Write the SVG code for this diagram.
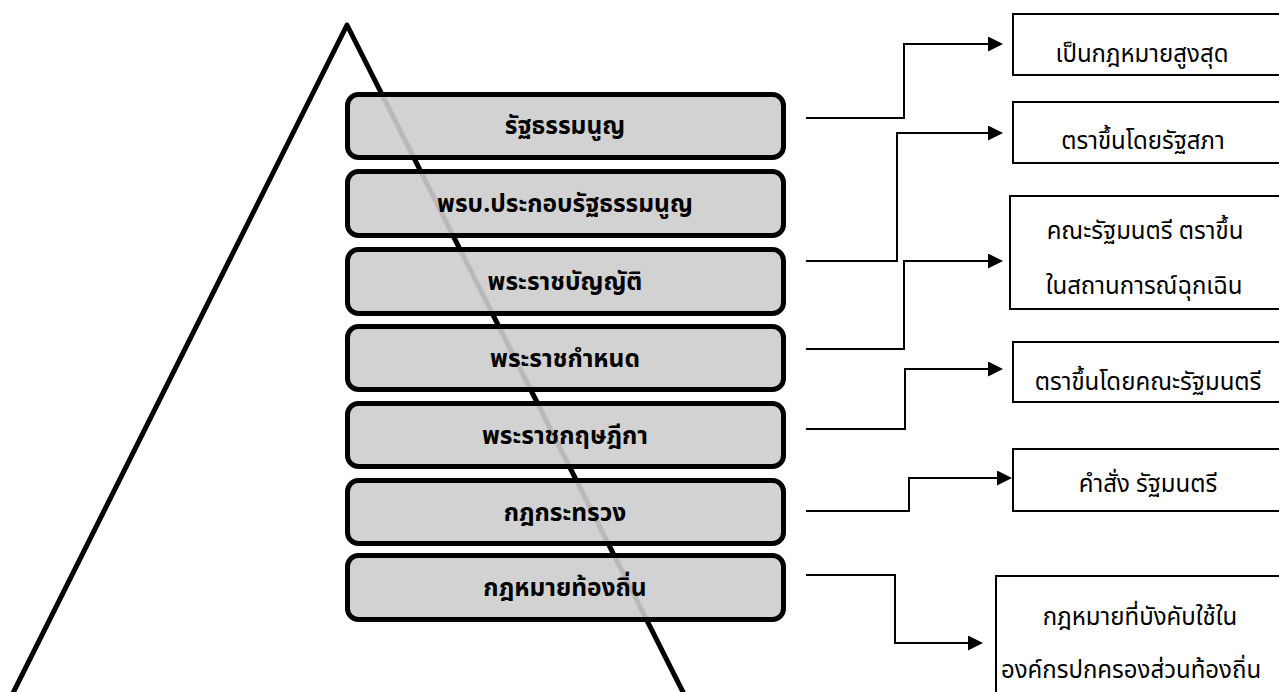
<svg xmlns="http://www.w3.org/2000/svg" width="1279" height="692" viewBox="0 0 1279 692">
<style>
.tri{fill:none;stroke:#000;stroke-width:5;stroke-linejoin:round}
.lv{fill:#cdcdcd;fill-opacity:0.9;stroke:#000;stroke-width:5}
.lt{font-family:"Noto Sans Thai","Noto Sans","DejaVu Sans",sans-serif;font-weight:bold;font-size:24.5px;fill:#000;text-anchor:middle}
.nb{fill:#fff;stroke:#000;stroke-width:2}
.nt{font-family:"Noto Sans Thai","Noto Sans","DejaVu Sans",sans-serif;font-size:24px;fill:#000;text-anchor:middle}
.cn{fill:none;stroke:#000;stroke-width:2}
</style>
<defs>
<marker id="ah" markerUnits="userSpaceOnUse" markerWidth="16" markerHeight="16" refX="5" refY="7.5" orient="auto">
<path d="M0,0 L15,7.5 L0,15 z" fill="#000"/>
</marker>
</defs>
<rect width="1279" height="692" fill="#fff"/>
<polyline class="tri" points="9.5,700 347,25 687,700"/>
<g id="level1"><rect class="lv" x="347.5" y="94.5" width="436" height="63" rx="11"/><text class="lt" x="565" y="134">รัฐธรรมนูญ</text></g>
<g id="level2"><rect class="lv" x="347.5" y="171.5" width="436" height="64" rx="11"/><text class="lt" x="565" y="212">พรบ.ประกอบรัฐธรรมนูญ</text></g>
<g id="level3"><rect class="lv" x="347.5" y="249.5" width="436" height="64" rx="11"/><text class="lt" x="565" y="290">พระราชบัญญัติ</text></g>
<g id="level4"><rect class="lv" x="347.5" y="326.5" width="436" height="63" rx="11"/><text class="lt" x="565" y="367">พระราชกำหนด</text></g>
<g id="level5"><rect class="lv" x="347.5" y="403.5" width="436" height="63" rx="11"/><text class="lt" x="565" y="444">พระราชกฤษฎีกา</text></g>
<g id="level6"><rect class="lv" x="347.5" y="480.5" width="436" height="63" rx="11"/><text class="lt" x="565" y="521">กฎกระทรวง</text></g>
<g id="level7"><rect class="lv" x="347.5" y="555.5" width="436" height="64" rx="11"/><text class="lt" x="565" y="596">กฎหมายท้องถิ่น</text></g>
<g id="note1"><rect class="nb" x="1013" y="14" width="300" height="61"/><text class="nt" x="1142" y="62">เป็นกฎหมายสูงสุด</text></g>
<g id="note2"><rect class="nb" x="1013" y="102" width="300" height="61"/><text class="nt" x="1143" y="149">ตราขึ้นโดยรัฐสภา</text></g>
<g id="note3"><rect class="nb" x="1010" y="196" width="300" height="113"/><text class="nt" x="1145" y="239">คณะรัฐมนตรี ตราขึ้น</text><text class="nt" x="1144" y="294">ในสถานการณ์ฉุกเฉิน</text></g>
<g id="note4"><rect class="nb" x="1013" y="342" width="300" height="60"/><text class="nt" x="1148" y="390">ตราขึ้นโดยคณะรัฐมนตรี</text></g>
<g id="note5"><rect class="nb" x="1013" y="449" width="300" height="62"/><text class="nt" x="1148" y="492">คำสั่ง รัฐมนตรี</text></g>
<g id="note6"><rect class="nb" x="996" y="576" width="300" height="130"/><text class="nt" x="1140" y="625">กฎหมายที่บังคับใช้ใน</text><text class="nt" x="1131" y="678">องค์กรปกครองส่วนท้องถิ่น</text></g>
<g id="connectors">
<path class="cn" d="M806,118 H904 V44 H993" marker-end="url(#ah)"/>
<path class="cn" d="M806,261 H897 V133 H993" marker-end="url(#ah)"/>
<path class="cn" d="M806,349 H904 V261 H993" marker-end="url(#ah)"/>
<path class="cn" d="M806,429 H905 V369 H993" marker-end="url(#ah)"/>
<path class="cn" d="M806,511 H909 V478 H1002" marker-end="url(#ah)"/>
<path class="cn" d="M806,575 H895 V643 H973" marker-end="url(#ah)"/>
</g>
</svg>
